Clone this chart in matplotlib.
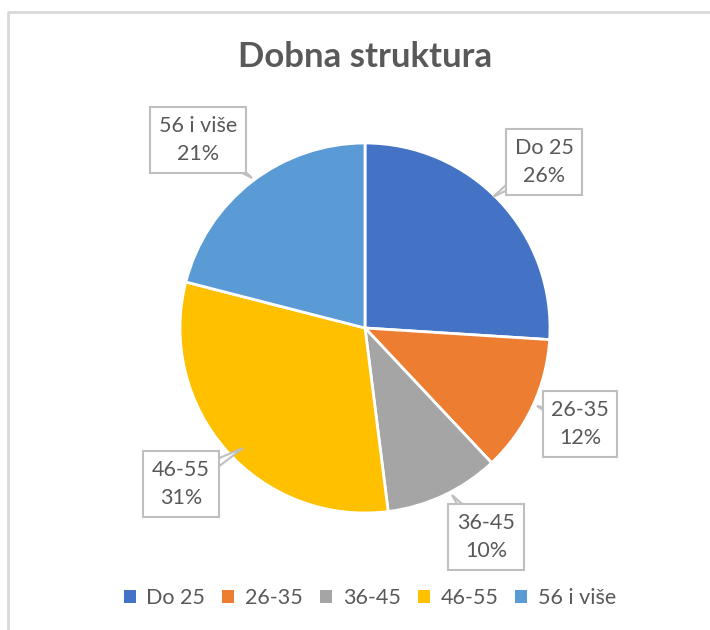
import numpy as np
import matplotlib.pyplot as plt
from matplotlib.patches import Patch, Polygon

categories = ['Do 25', '26-35', '36-45', '46-55', '56 i više']
values = [26, 12, 10, 31, 21]
colors = ['#4472C4', '#ED7D31', '#A5A5A5', '#FFC000', '#5B9BD5']

# label box centers and pointer tips, in pixel coords (top-left origin)
box_pos = [(544, 162), (580, 424), (486, 537), (181, 484), (198, 140)]
tip_pos = [(493, 197), (537, 406), (452, 495), (243, 448), (252, 178)]

W, H = 710, 630
fig = plt.figure(figsize=(7.1, 6.3), dpi=100)
ax = fig.add_axes([0, 0, 1, 1])
ax.set_xlim(0, W)
ax.set_ylim(0, H)
ax.set_aspect('equal')
ax.axis('off')

plt.rcParams['font.family'] = ['Lato', 'DejaVu Sans']
txt_col = '#595959'
box_col = '#BFBFBF'

cx, cy, r = 365, H - 328, 185
ax.pie(values, colors=colors, startangle=90, counterclock=False,
       center=(cx, cy), radius=r,
       wedgeprops=dict(edgecolor='white', linewidth=2))
ax.set_xlim(0, W)
ax.set_ylim(0, H)

total = sum(values)
for cat, v, (bx, by), (tx, ty) in zip(categories, values, box_pos, tip_pos):
    ax.text(bx, H - by, f'{cat}\n{round(v / total * 100)}%',
            ha='center', va='center', fontsize=15.5, color=txt_col, linespacing=1.55,
            bbox=dict(boxstyle='square,pad=0.4', fc='white', ec=box_col, lw=1.5), zorder=5)
    # callout pointer: thin triangle from box to slice
    d = np.array([tx - bx, ty - by], dtype=float)
    d /= np.hypot(*d)
    n = np.array([-d[1], d[0]]) * 9
    pts = [(tx, H - ty), (bx + n[0], H - (by + n[1])), (bx - n[0], H - (by - n[1]))]
    ax.add_patch(Polygon(pts, closed=True, fc='white', ec=box_col, lw=1.5, zorder=4))

ax.text(365, H - 57, 'Dobna struktura', ha='center', va='center',
        fontsize=25, fontweight='bold', color=txt_col)

# chart border (top and left only visible)
ax.plot([8, 8, W], [0, H - 12, H - 12], color='#D9D9D9', lw=2, clip_on=False)

handles = [Patch(facecolor=c, edgecolor='none') for c in colors]
fig.legend(handles, categories, loc='center', bbox_to_anchor=(370 / W, 1 - 598 / H),
           ncol=5, frameon=False, fontsize=15.5, labelcolor=txt_col,
           handlelength=0.55, handleheight=0.55, handletextpad=0.5, columnspacing=0.8)

fig.savefig('out.png', dpi=100)
